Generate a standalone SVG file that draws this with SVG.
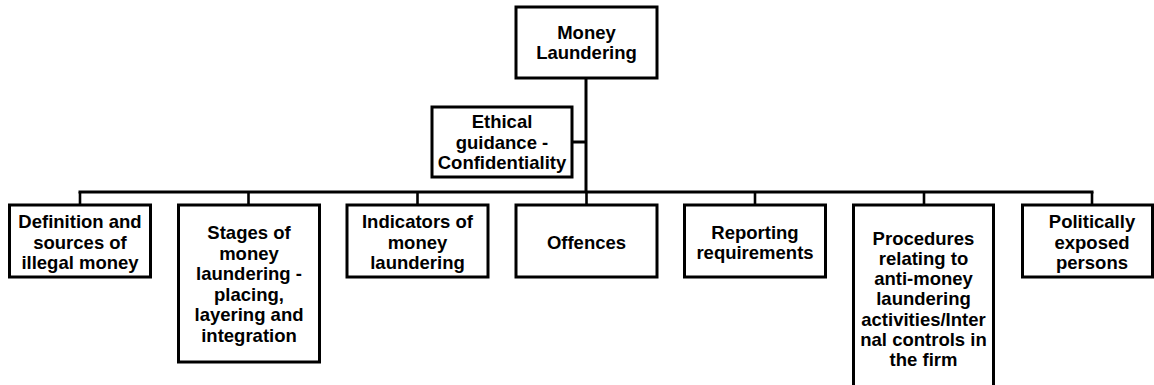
<svg xmlns="http://www.w3.org/2000/svg" width="1154" height="385" viewBox="0 0 1154 385">
  <style>
    .box { fill: #ffffff; stroke: #000000; stroke-width: 3; }
    .wire { fill: none; stroke: #000000; stroke-width: 3; }
    .drop { fill: none; stroke: #000000; stroke-width: 2.6; }
    text { font-family: "Liberation Sans", Arial, sans-serif; font-weight: bold; font-size: 18.5px; fill: #000000; text-anchor: middle; }
  </style>
  <rect width="1154" height="385" fill="#ffffff"/>

  <!-- connectors -->
  <g id="connectors">
    <line class="wire" x1="586" y1="78" x2="586" y2="192"/>
    <line class="wire" x1="572" y1="142" x2="586" y2="142"/>
    <line class="wire" x1="78.5" y1="192" x2="1093.5" y2="192"/>
    <line class="drop" x1="80" y1="192" x2="80" y2="205"/>
    <line class="drop" x1="248.5" y1="192" x2="248.5" y2="205"/>
    <line class="drop" x1="417.5" y1="192" x2="417.5" y2="205"/>
    <line class="drop" x1="586.5" y1="192" x2="586.5" y2="205"/>
    <line class="drop" x1="755" y1="192" x2="755" y2="205"/>
    <line class="drop" x1="924" y1="192" x2="924" y2="205"/>
    <line class="drop" x1="1092" y1="192" x2="1092" y2="205"/>
  </g>

  <!-- root -->
  <g id="node-money-laundering">
    <rect class="box" x="516" y="7" width="141" height="71"/>
    <text x="586.5" y="38.5">Money</text>
    <text x="586.5" y="59">Laundering</text>
  </g>

  <g id="node-ethical-guidance">
    <rect class="box" x="432" y="107" width="140" height="70"/>
    <text x="502" y="128">Ethical</text>
    <text x="502" y="148.5">guidance -</text>
    <text x="502" y="169">Confidentiality</text>
  </g>

  <!-- second level -->
  <g id="node-definition">
    <rect class="box" x="9.5" y="205" width="141" height="72"/>
    <text x="80" y="228">Definition and</text>
    <text x="80" y="248.5">sources of</text>
    <text x="80" y="269">illegal money</text>
  </g>

  <g id="node-stages">
    <rect class="box" x="178.5" y="205" width="141" height="157"/>
    <text x="249" y="239">Stages of</text>
    <text x="249" y="259.5">money</text>
    <text x="249" y="280">laundering -</text>
    <text x="249" y="300.5">placing,</text>
    <text x="249" y="321">layering and</text>
    <text x="249" y="341.5">integration</text>
  </g>

  <g id="node-indicators">
    <rect class="box" x="347" y="205" width="141" height="72"/>
    <text x="417.5" y="228">Indicators of</text>
    <text x="417.5" y="248.5">money</text>
    <text x="417.5" y="269">laundering</text>
  </g>

  <g id="node-offences">
    <rect class="box" x="516" y="205" width="141" height="72"/>
    <text x="586.5" y="248.5">Offences</text>
  </g>

  <g id="node-reporting">
    <rect class="box" x="684.5" y="205" width="141" height="72"/>
    <text x="755" y="238.5">Reporting</text>
    <text x="755" y="259">requirements</text>
  </g>

  <g id="node-procedures">
    <rect class="box" x="853.5" y="205" width="140" height="190"/>
    <text x="923.5" y="244.5">Procedures</text>
    <text x="923.5" y="264.8">relating to</text>
    <text x="923.5" y="285.1">anti-money</text>
    <text x="923.5" y="305.4">laundering</text>
    <text x="923.5" y="325.7">activities/Inter</text>
    <text x="923.5" y="346">nal controls in</text>
    <text x="923.5" y="366.3">the firm</text>
  </g>

  <g id="node-pep">
    <rect class="box" x="1022.5" y="205" width="130" height="72"/>
    <text x="1092" y="228">Politically</text>
    <text x="1092" y="248.5">exposed</text>
    <text x="1092" y="269">persons</text>
  </g>
</svg>
